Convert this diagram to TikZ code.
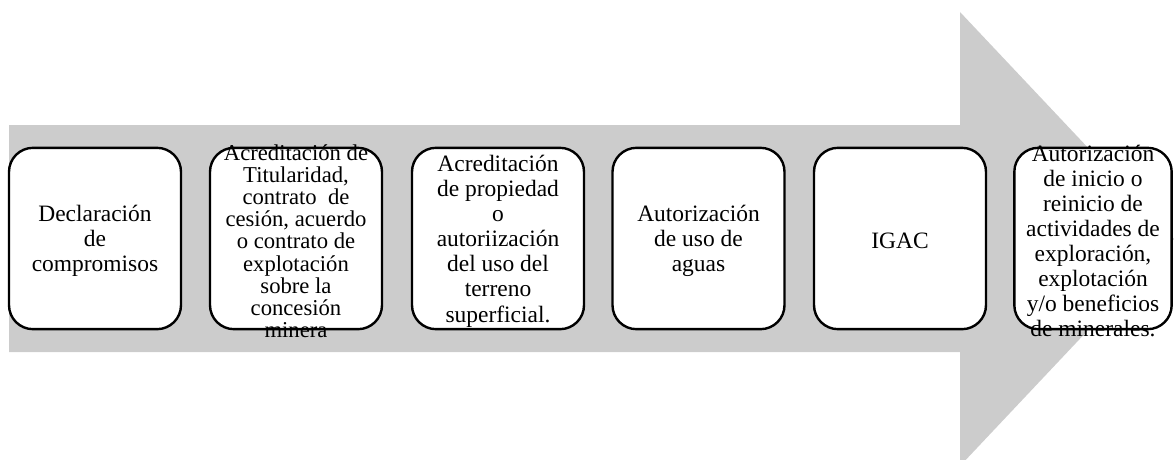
\documentclass[tikz,border=0pt]{standalone}
\usepackage{fontspec}
\setmainfont{Liberation Serif}
\usepackage{xcolor}
\usepackage{tikz}
\usetikzlibrary{shapes}
\definecolor{arrowGray}{RGB}{204,204,204}
\tikzstyle{tsBodyText} = [ 
    text=black, 
    font=\fontsize{17.6}{18.8}\selectfont
]
\tikzstyle{tsWraptext} = [ 
    tsBodyText, 
    text centered,
    align=center,
    inner sep=0pt,
    yshift=-2pt
]
\tikzstyle{tsRoundBox} = [ 
    rectangle,
    rounded corners=18pt,
    draw=black,
    fill=white,
    line width=1.8pt,
    minimum width=129pt,
    minimum height=136pt]

\begin{document}
\begin{tikzpicture}[x=0.75pt, y=-0.75pt]

        \useasboundingbox (0,0) rectangle (1174,460);
        \clip (0,0) rectangle (1174,460);

        % grey arrow behind the steps
        \fill[arrowGray] (9,125) -- (960,125) -- (960,12) -- (1174,239)
                -- (960,466) -- (960,352) -- (9,352) -- cycle;

        \node[tsRoundBox] (box1) at (95,238.5) { };
        \node[tsRoundBox] (box2) at (296,238.5) { };
        \node[tsRoundBox] (box3) at (498,238.5) { };
        \node[tsRoundBox] (box4) at (698.5,238.5) { };
        \node[tsRoundBox] (box5) at (900,238.5) { };
        \node[tsRoundBox, minimum width=118pt] (box6) at (1093,238.5) { };

        \node[tsWraptext] (step1) at (box1.center) {Declaración\\de\\compromisos};
        \node[tsWraptext, font=\fontsize{17}{16.6}\selectfont] (step2) at (box2.center)
                {Acreditación de\\Titularidad,\\contrato~ de\\cesión, acuerdo\\o contrato de\\explotación\\sobre la\\concesión\\minera};
        \node[tsWraptext] (step3) at (box3.center)
                {Acreditación\\de propiedad\\o\\autoriización\\del uso del\\terreno\\superficial.};
        \node[tsWraptext] (step4) at (box4.center) {Autorización\\de uso de\\aguas};
        \node[tsWraptext] (step5) at (box5.center) {IGAC};
        \node[tsWraptext] (step6) at (box6.center)
                {Autorización\\de inicio o\\reinicio de\\actividades de\\exploración,\\explotación\\y/o beneficios\\de minerales.};

\end{tikzpicture}
\end{document}
